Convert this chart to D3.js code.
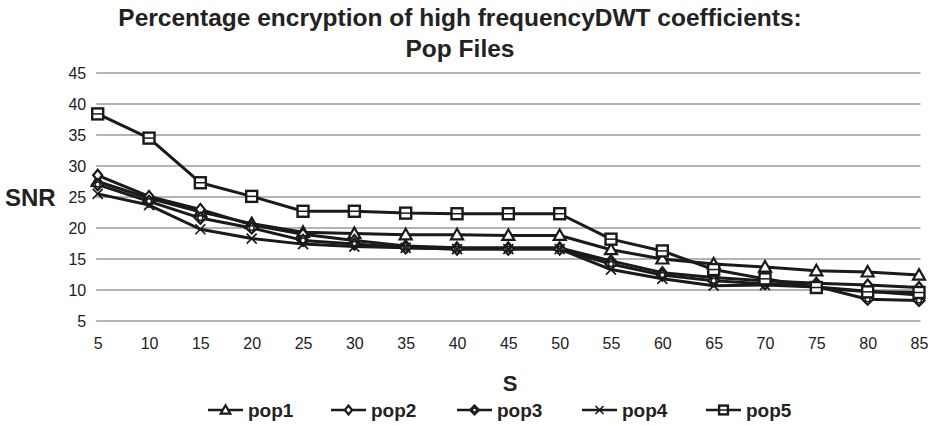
<!DOCTYPE html>
<html><head><meta charset="utf-8">
<script src="https://cdn.jsdelivr.net/npm/d3@7"></script>
<style>body{margin:0;background:#fff}svg{display:block;font-family:"Liberation Sans",Arial,sans-serif}</style>
</head><body><svg id="c" width="933" height="425"></svg>
<script>
const categories = [5,10,15,20,25,30,35,40,45,50,55,60,65,70,75,80,85];
const pop1 = [27.5,24.8,22.6,20.7,19.3,19.1,18.9,18.9,18.8,18.8,16.5,15.0,14.2,13.7,13.1,12.9,12.4];
const pop2 = [28.5,25.1,23.0,20.5,19.0,18.0,17.1,16.8,16.8,16.8,14.7,12.8,12.0,11.5,11.1,10.8,10.4];
const pop3 = [27.0,24.3,21.6,20.0,18.0,17.4,16.8,16.6,16.6,16.6,14.2,12.4,11.5,11.0,10.6,8.5,8.3];
const pop4 = [25.5,23.7,19.8,18.3,17.4,17.0,16.8,16.6,16.6,16.6,13.3,11.8,10.7,10.8,10.5,9.8,9.2];
const pop5 = [38.4,34.5,27.3,25.1,22.7,22.7,22.4,22.3,22.3,22.3,18.2,16.3,13.3,11.8,10.4,9.7,9.6];
const seriesNames = ["pop1","pop2","pop3","pop4","pop5"];
const seriesMarkers = ["triangle","diamondSmall","circleDiamond","cross","square"];
const yTicks = [5,10,15,20,25,30,35,40,45];
const titleLines = ["Percentage encryption of high frequencyDWT coefficients:","Pop Files"];

const series = [pop1,pop2,pop3,pop4,pop5].map((v,i)=>({name:seriesNames[i],marker:seriesMarkers[i],values:v}));
const svg = d3.select("#c");
const m = {l:97.7, r:919, t:73, b:321};
const x = d3.scalePoint().domain(categories).range([m.l,m.r]);
const y = d3.scaleLinear().domain([5,45]).range([m.b,m.t]);
const ink = "#1a1a1a";

// gridlines
svg.append("g").selectAll("line").data(yTicks).join("line")
  .attr("x1",m.l-1.5).attr("x2",m.r+1.5).attr("y1",d=>y(d)).attr("y2",d=>y(d))
  .attr("stroke","#b3b3b3").attr("stroke-width",2);

// y axis
const ya = svg.append("g").attr("transform",`translate(${m.l-11.5},0)`)
  .call(d3.axisLeft(y).tickValues(yTicks).tickSize(0).tickPadding(0));
ya.select(".domain").remove();
ya.selectAll("text").attr("font-size",16).attr("fill","#222").attr("dy","0.36em").attr("font-family","Liberation Sans, Arial, sans-serif");

// x axis
const xa = svg.append("g").attr("transform",`translate(0,${m.b+16.5})`)
  .call(d3.axisBottom(x).tickSize(0).tickPadding(0));
xa.select(".domain").remove();
xa.selectAll("text").attr("font-size",16).attr("fill","#222").attr("dy","0.71em").attr("font-family","Liberation Sans, Arial, sans-serif");

// title
svg.append("g").selectAll("text").data(titleLines).join("text")
  .attr("x",460).attr("y",(d,i)=>26+i*30.6).attr("text-anchor","middle")
  .attr("font-size",24.5).attr("font-weight","bold").attr("fill","#222").text(d=>d);

svg.append("text").attr("x",5).attr("y",205.5).attr("font-size",24).attr("font-weight","bold").attr("fill","#222").text("SNR");
svg.append("text").attr("x",510).attr("y",391).attr("text-anchor","middle").attr("font-size",22).attr("font-weight","bold").attr("fill","#222").text("S");

function drawMarker(g, type, cx, cy, scale){
  const s = scale||1;
  if(type==="triangle"){
    g.append("path").attr("d",`M${cx},${cy-6*s}L${cx+6*s},${cy+4.5*s}L${cx-6*s},${cy+4.5*s}Z`)
      .attr("fill","#fff").attr("stroke",ink).attr("stroke-width",2.2);
  } else if(type==="diamondSmall"){
    g.append("path").attr("d",`M${cx},${cy-5.5*s}L${cx+4.5*s},${cy}L${cx},${cy+5.5*s}L${cx-4.5*s},${cy}Z`)
      .attr("fill","#fff").attr("stroke",ink).attr("stroke-width",2.2);
  } else if(type==="circleDiamond"){
    g.append("path").attr("d",`M${cx},${cy-5.5*s}L${cx+5.5*s},${cy}L${cx},${cy+5.5*s}L${cx-5.5*s},${cy}Z`)
      .attr("fill","#fff").attr("stroke",ink).attr("stroke-width",2.2);
    g.append("circle").attr("cx",cx).attr("cy",cy).attr("r",2.5*s).attr("fill","none").attr("stroke",ink).attr("stroke-width",1.5);
  } else if(type==="cross"){
    const r=5*s;
    g.append("path").attr("d",`M${cx-r},${cy-r}L${cx+r},${cy+r}M${cx-r},${cy+r}L${cx+r},${cy-r}`)
      .attr("stroke",ink).attr("stroke-width",1.7);
  } else if(type==="square"){
    const r=5.5*s;
    g.append("rect").attr("x",cx-r).attr("y",cy-r).attr("width",2*r).attr("height",2*r)
      .attr("fill","#fff").attr("stroke",ink).attr("stroke-width",2.4);
    g.append("line").attr("x1",cx-r).attr("x2",cx+r).attr("y1",cy).attr("y2",cy).attr("stroke",ink).attr("stroke-width",1.5);
  }
}

const line = d3.line().x((d,i)=>x(categories[i])).y(d=>y(d));
const plot = svg.append("g");
series.forEach(s=>{
  plot.append("path").datum(s.values).attr("d",line).attr("fill","none")
    .attr("stroke",ink).attr("stroke-width",3).attr("stroke-linejoin","round");
});
series.forEach(s=>{
  const g = plot.append("g");
  s.values.forEach((v,i)=>drawMarker(g,s.marker,x(categories[i]),y(v),1));
});

// legend
const legText = [248,371,497,622,746];
const leg = svg.append("g");
series.forEach((s,i)=>{
  const tx = legText[i], lx = tx-40, ly = 410;
  leg.append("line").attr("x1",lx).attr("x2",lx+35).attr("y1",ly).attr("y2",ly).attr("stroke",ink).attr("stroke-width",2.4);
  drawMarker(leg,s.marker,lx+17.5,ly,0.8);
  leg.append("text").attr("x",tx).attr("y",ly+6.5).attr("font-size",19).attr("font-weight","bold").attr("fill","#222").text(s.name);
});
</script></body></html>
